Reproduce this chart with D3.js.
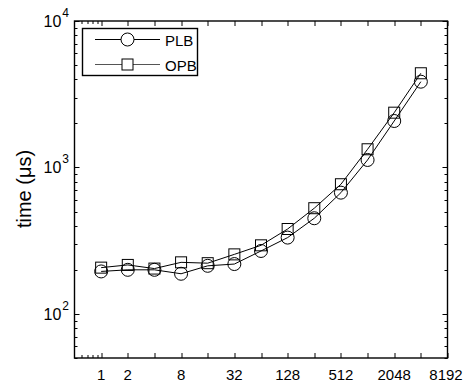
<!DOCTYPE html>
<html>
<head>
<meta charset="utf-8">
<script src="https://cdn.jsdelivr.net/npm/d3@7"></script>
<style>
  body { margin: 0; background: #fff; }
  text { font-family: "Liberation Sans", Arial, sans-serif; fill: #000; }
</style>
</head>
<body>
<div id="chart"></div>
<script>
// data
var sizes = [1, 2, 4, 8, 16, 32, 64, 128, 256, 512, 1024, 2048, 4096];
var plb = [195, 200, 200, 188, 213, 219, 269, 332, 450, 673, 1125, 2076, 3852];
var opb = [207, 216, 204, 225, 222, 255, 294, 380, 527, 768, 1331, 2366, 4397];
var seriesNames = ["PLB", "OPB"];
var xTickLabels = [1, 2, 8, 32, 128, 512, 2048, 8192];
var yTickExps = [2, 3, 4];

var W = 463, H = 385;
var margin = {top: 21, right: 15.5, bottom: 27, left: 74.5},
    width = W - margin.left - margin.right,
    height = H - margin.top - margin.bottom;

var svg = d3.select("#chart").append("svg")
    .attr("width", W)
    .attr("height", H);

var g = svg.append("g")
    .attr("transform", "translate(" + margin.left + "," + margin.top + ")");

var x = d3.scaleLog().base(2).domain([0.5, 8192]).range([0, width]);
var y = d3.scaleLog().domain([50, 10000]).range([height, 0]);

// x ticks: every power of 2 on bottom and top, plus small ones under 1
var xMajor = d3.range(0, 14).map(function(i) { return Math.pow(2, i); });
var xMinor = [0.6, 0.7, 0.8, 0.9];
var yMajor = yTickExps.map(function(e) { return Math.pow(10, e); });
var yMinor = [];
[10, 100, 1000].forEach(function(b) {
  for (var k = 2; k <= 9; k++) if (b * k >= 50 && b * k < 10000) yMinor.push(b * k);
});

var ticks = g.append("g").attr("stroke", "#000").attr("stroke-width", 1);

xMajor.forEach(function(v) {
  var px = Math.round(x(v)) + 0.5;
  ticks.append("line").attr("x1", px).attr("x2", px).attr("y1", height).attr("y2", height - 5);
  ticks.append("line").attr("x1", px).attr("x2", px).attr("y1", 0).attr("y2", 5);
});
xMinor.forEach(function(v) {
  var px = Math.round(x(v)) + 0.5;
  ticks.append("line").attr("x1", px).attr("x2", px).attr("y1", height).attr("y2", height - 3);
  ticks.append("line").attr("x1", px).attr("x2", px).attr("y1", 0).attr("y2", 3);
});
yMajor.forEach(function(v) {
  var py = Math.round(y(v)) + 0.5;
  ticks.append("line").attr("x1", 0).attr("x2", 5).attr("y1", py).attr("y2", py);
  ticks.append("line").attr("x1", width).attr("x2", width - 5).attr("y1", py).attr("y2", py);
});
yMinor.forEach(function(v) {
  var py = Math.round(y(v)) + 0.5;
  ticks.append("line").attr("x1", 0).attr("x2", 3).attr("y1", py).attr("y2", py);
  ticks.append("line").attr("x1", width).attr("x2", width - 3).attr("y1", py).attr("y2", py);
});

// frame
g.append("rect")
  .attr("x", 0).attr("y", 0)
  .attr("width", width).attr("height", height)
  .attr("fill", "none")
  .attr("stroke", "#000")
  .attr("stroke-width", 1.4);

// x tick labels
g.append("g").selectAll("text")
  .data(xTickLabels)
  .join("text")
    .attr("x", function(d) { return Math.min(x(d), W - margin.left - 17); })
    .attr("y", height + 22)
    .attr("text-anchor", "middle")
    .style("font-size", "15px")
    .text(function(d) { return d; });

// y tick labels 10^n
var yl = g.append("g").selectAll("text")
  .data(yTickExps)
  .join("text")
    .attr("x", -31)
    .attr("y", function(d) { return y(Math.pow(10, d)) + 6; })
    .style("font-size", "16px");
yl.append("tspan").text("10");
yl.append("tspan")
  .attr("dx", 1)
  .attr("dy", -10)
  .style("font-size", "12px")
  .text(function(d) { return d; });

// y axis title
svg.append("text")
  .attr("transform", "translate(31,189) rotate(-90)")
  .attr("text-anchor", "middle")
  .style("font-size", "20px")
  .text("time (\u03bcs)");

// lines
var line = d3.line()
  .x(function(d, i) { return x(sizes[i]); })
  .y(function(d) { return y(d); });

[plb, opb].forEach(function(s) {
  g.append("path")
    .datum(s)
    .attr("fill", "none")
    .attr("stroke", "#000")
    .attr("stroke-width", 1)
    .attr("d", line);
});

// markers
g.append("g").selectAll("circle")
  .data(plb)
  .join("circle")
    .attr("cx", function(d, i) { return x(sizes[i]); })
    .attr("cy", function(d) { return y(d); })
    .attr("r", 6.5)
    .attr("fill", "none")
    .attr("stroke", "#000");

g.append("g").selectAll("rect")
  .data(opb)
  .join("rect")
    .attr("x", function(d, i) { return x(sizes[i]) - 5.5; })
    .attr("y", function(d) { return y(d) - 5.5; })
    .attr("width", 11)
    .attr("height", 11)
    .attr("fill", "none")
    .attr("stroke", "#000");

// legend
var lg = svg.append("g");
lg.append("rect")
  .attr("x", 82.5).attr("y", 28.5)
  .attr("width", 115).attr("height", 47)
  .attr("fill", "#fff")
  .attr("stroke", "#000")
  .attr("stroke-width", 1.4);

seriesNames.forEach(function(name, i) {
  var ly = 39.5 + i * 25;
  lg.append("line")
    .attr("x1", 95).attr("x2", 160)
    .attr("y1", ly).attr("y2", ly)
    .attr("stroke", i === 0 ? "#000" : "#555");
  if (i === 0) {
    lg.append("circle").attr("cx", 127.5).attr("cy", ly).attr("r", 6.5)
      .attr("fill", "#fff").attr("stroke", "#000");
  } else {
    lg.append("rect").attr("x", 122).attr("y", ly - 5.5).attr("width", 11).attr("height", 11)
      .attr("fill", "#fff").attr("stroke", "#000");
  }
  lg.append("text")
    .attr("x", 165)
    .attr("y", ly + 6)
    .style("font-size", "15px")
    .text(name);
});
</script>
</body>
</html>
